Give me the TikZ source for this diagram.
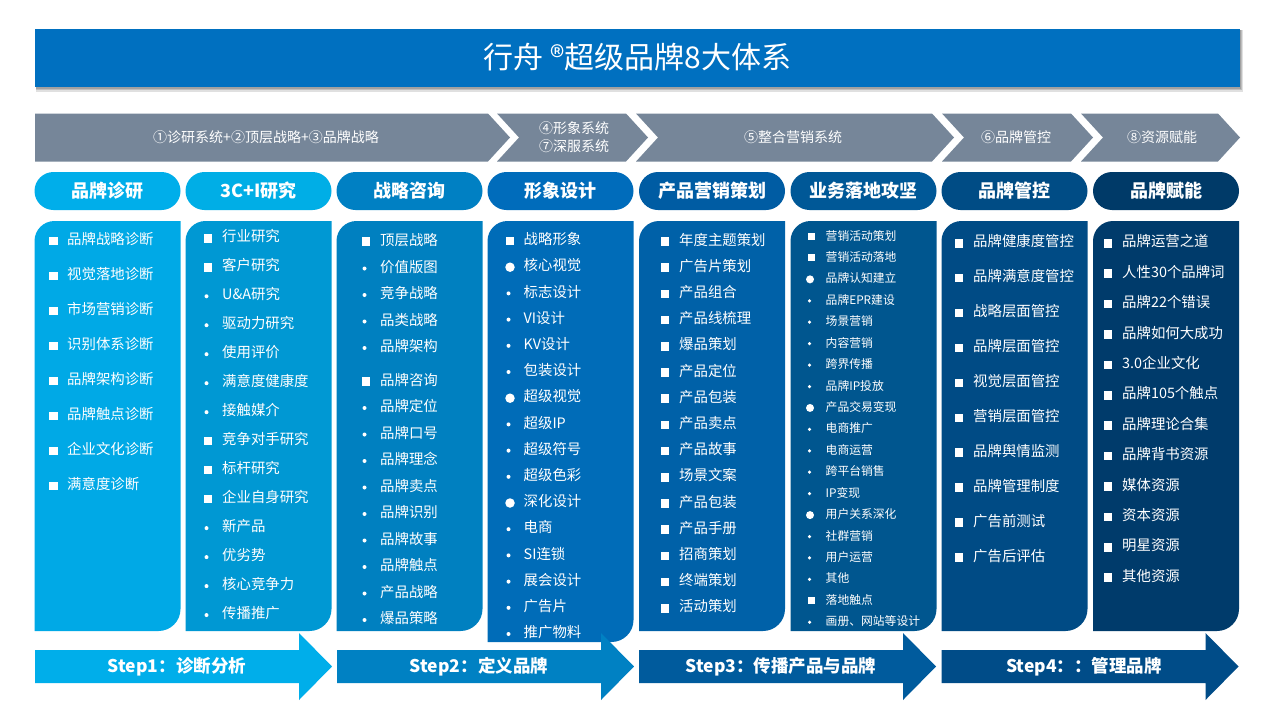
\documentclass[tikz,border=0pt]{standalone}
\usepackage{fontspec}
\setmainfont{Noto Sans CJK SC}
\definecolor{titleblue}{HTML}{0070C0}
\definecolor{chev}{HTML}{768699}
\definecolor{pa}{HTML}{00AEEA}
\definecolor{pb}{HTML}{00AEE6}
\definecolor{pc}{HTML}{0080C3}
\definecolor{pd}{HTML}{006CBB}
\definecolor{pe}{HTML}{005CA3}
\definecolor{pf}{HTML}{005897}
\definecolor{pg}{HTML}{004C85}
\definecolor{ph}{HTML}{003A68}
\definecolor{ca}{HTML}{00A9E6}
\definecolor{cb}{HTML}{0098D3}
\definecolor{cc}{HTML}{0080C0}
\definecolor{cd}{HTML}{006CB8}
\definecolor{ce}{HTML}{0061A8}
\definecolor{cf}{HTML}{00568F}
\definecolor{cg}{HTML}{004B85}
\definecolor{ch}{HTML}{003B6B}
\definecolor{sa}{HTML}{00AEEA}
\definecolor{sb}{HTML}{0081C3}
\definecolor{sc}{HTML}{005B9D}
\definecolor{sd}{HTML}{004C88}
\newcommand\leafcol[3]{% left x, bottom y, colour
  \fill[#3] (#1,#2) -- (#1,241) arc[start angle=180,end angle=270,radius=20]
    -- (#1+146,221) -- (#1+146,#2-22) arc[start angle=0,end angle=90,radius=22] -- cycle;}
\newcommand\chevron[3]{% left, right, colour
  \fill[#3] (#1,113.5) -- (#2,113.5) -- (#2+22,137.5) -- (#2,161.5) -- (#1,161.5) -- (#1+22,137.5) -- cycle;}
\newcommand\steparrow[2]{% left, colour
  \fill[#2] (#1,650) -- (#1+264,650) -- (#1+264,633) -- (#1+297,666.5) -- (#1+264,700) -- (#1+264,683) -- (#1,683) -- cycle;}
\newcommand\colitems[7]{% prefix, bullet x, text x, y0, dy, font style, list
  \foreach \t/\s [count=\i from 0] in {#7}{%
    \pgfmathsetmacro\yy{#4+\i*#5}%
    \node[b\t#6] (#1b\i) at (#2,\yy) {};
    \node[item#6] (#1t\i) at (#3,\yy) {\s};
  }}
\begin{document}
\begin{tikzpicture}[x=1pt,y=-1pt,
  titletext/.style={text=white,font=\fontsize{30}{34}\selectfont,inner sep=0pt},
  chevtext/.style={text=white,font=\fontsize{14}{18}\selectfont,inner sep=0pt,align=center},
  pill/.style={rounded corners=19pt,minimum width=146pt,minimum height=38pt,inner sep=0pt,
    text=white,font=\bfseries\fontsize{18}{20}\selectfont},
  steptext/.style={text=white,font=\bfseries\fontsize{17.5}{20}\selectfont,inner sep=0pt},
  item/.style={anchor=west,text=white,inner sep=0pt,text height=0.86em,text depth=0.14em,
    font=\fontsize{14.4}{16}\selectfont},
  itemS/.style={anchor=west,text=white,inner sep=0pt,text height=0.86em,text depth=0.14em,
    font=\fontsize{11.8}{13}\selectfont},
  bq/.style={rectangle,fill=white,minimum size=8.5pt,inner sep=0pt},
  bd/.style={circle,fill=white,minimum size=4pt,inner sep=0pt,xshift=-1.5pt},
  bc/.style={circle,fill=white,minimum size=9.5pt,inner sep=0pt},
  bqS/.style={rectangle,fill=white,minimum size=7pt,inner sep=0pt},
  bdS/.style={circle,fill=white,minimum size=3.5pt,inner sep=0pt,xshift=-1.5pt},
  bcS/.style={circle,fill=white,minimum size=8pt,inner sep=0pt,xshift=-1pt}]
\useasboundingbox (0,0) rectangle (1268,712);
\fill[white] (0,0) rectangle (1268,712);
% title
\fill[black,opacity=0.12] (36,30) rectangle (1243,92);
\fill[black,opacity=0.15] (36,30) rectangle (1242,90);
\fill[black,opacity=0.15] (36,30) rectangle (1241,88.5);
\fill[titleblue] (35,29) rectangle (1240,86.5);
\node[titletext] (title) at (637.5,57.5) {行舟 ®超级品牌8大体系};
% chevrons
\fill[chev] (35,113.5) -- (488,113.5) -- (510,137.5) -- (488,161.5) -- (35,161.5) -- cycle;
\chevron{497}{626}{chev}
\chevron{636}{932}{chev}
\chevron{942}{1071}{chev}
\chevron{1081}{1218}{chev}
\node[chevtext] (h1) at (266,137.5) {①诊研系统+②顶层战略+③品牌战略};
\node[chevtext] (h2) at (574,128.5) {④形象系统};
\node[chevtext] (h2b) at (574,146.5) {⑦深服系统};
\node[chevtext] (h3) at (793,137.5) {⑤整合营销系统};
\node[chevtext] (h4) at (1016,137.5) {⑥品牌管控};
\node[chevtext] (h5) at (1162,137.5) {⑧资源赋能};
% pills
\node[pill,fill=pa] (p1) at (107.5,191) {品牌诊研};
\node[pill,fill=pb] (p2) at (258.5,191) {3C+I研究};
\node[pill,fill=pc] (p3) at (409.5,191) {战略咨询};
\node[pill,fill=pd] (p4) at (560.5,191) {形象设计};
\node[pill,fill=pe] (p5) at (712,191) {产品营销策划};
\node[pill,fill=pf] (p6) at (863.5,191) {业务落地攻坚};
\node[pill,fill=pg] (p7) at (1014.5,191) {品牌管控};
\node[pill,fill=ph] (p8) at (1166,191) {品牌赋能};
% columns
\leafcol{34.5}{631}{ca}
\leafcol{185.5}{631}{cb}
\leafcol{336.5}{631}{cc}
\leafcol{487.5}{642}{cd}
\leafcol{639}{631}{ce}
\leafcol{790.5}{631}{cf}
\leafcol{941.5}{631}{cg}
\leafcol{1093}{631}{ch}
% column items
\colitems{a}{53.5}{67}{241}{35}{}{q/品牌战略诊断,q/视觉落地诊断,q/市场营销诊断,q/识别体系诊断,q/品牌架构诊断,q/品牌触点诊断,q/企业文化诊断,q/满意度诊断}
\colitems{b}{208}{222}{238.3}{28.98}{}{q/行业研究,q/客户研究,d/U\&A研究,d/驱动力研究,d/使用评价,d/满意度健康度,d/接触媒介,q/竞争对手研究,q/标杆研究,q/企业自身研究,d/新产品,d/优劣势,d/核心竞争力,d/传播推广}
\foreach \yy/\t/\s [count=\i] in {241.5/q/顶层战略,268.5/d/价值版图,295/d/竞争战略,321.5/d/品类战略,348/d/品牌架构,381.5/q/品牌咨询,408/d/品牌定位,434.5/d/品牌口号,461/d/品牌理念,487.5/d/品牌卖点,514/d/品牌识别,540.5/d/品牌故事,567/d/品牌触点,593.5/d/产品战略,620/d/爆品策略}{
  \node[b\t] (cb\i) at (366,\yy) {};
  \node[item] (ct\i) at (380,\yy) {\s};
}
\colitems{d}{510}{523.5}{241}{26.2}{}{q/战略形象,c/核心视觉,d/标志设计,d/VI设计,d/KV设计,d/包装设计,c/超级视觉,d/超级IP,d/超级符号,d/超级色彩,c/深化设计,d/电商,d/SI连锁,d/展会设计,d/广告片,d/推广物料}
\colitems{e}{665}{679}{241.5}{26.2}{}{q/年度主题策划,q/广告片策划,q/产品组合,q/产品线梳理,q/爆品策划,q/产品定位,q/产品包装,q/产品卖点,q/产品故事,q/场景文案,q/产品包装,q/产品手册,q/招商策划,q/终端策划,q/活动策划}
\colitems{f}{811}{825.5}{236.5}{21.43}{S}{q/营销活动策划,q/营销活动落地,c/品牌认知建立,d/品牌EPR建设,d/场景营销,d/内容营销,d/跨界传播,d/品牌IP投放,c/产品交易变现,d/电商推广,d/电商运营,d/跨平台销售,d/IP变现,c/用户关系深化,d/社群营销,d/用户运营,d/其他,q/落地触点,d/画册、网站等设计}
\colitems{g}{959}{973}{243.3}{34.9}{}{q/品牌健康度管控,q/品牌满意度管控,q/战略层面管控,q/品牌层面管控,q/视觉层面管控,q/营销层面管控,q/品牌舆情监测,q/品牌管理制度,q/广告前测试,q/广告后评估}
\colitems{h}{1108}{1122}{243.3}{30.4}{}{q/品牌运营之道,q/人性30个品牌词,q/品牌22个错误,q/品牌如何大成功,q/3.0企业文化,q/品牌105个触点,q/品牌理论合集,q/品牌背书资源,q/媒体资源,q/资本资源,q/明星资源,q/其他资源}
% step arrows
\steparrow{35}{sa}
\steparrow{337}{sb}
\steparrow{639}{sc}
\steparrow{941.5}{sd}
\node[steptext] (s1) at (177,666.5) {Step1：诊断分析};
\node[steptext] (s2) at (479,666.5) {Step2：定义品牌};
\node[steptext] (s3) at (781,666.5) {Step3：传播产品与品牌};
\node[steptext] (s4) at (1084,666.5) {Step4：：管理品牌};
\end{tikzpicture}
\end{document}
